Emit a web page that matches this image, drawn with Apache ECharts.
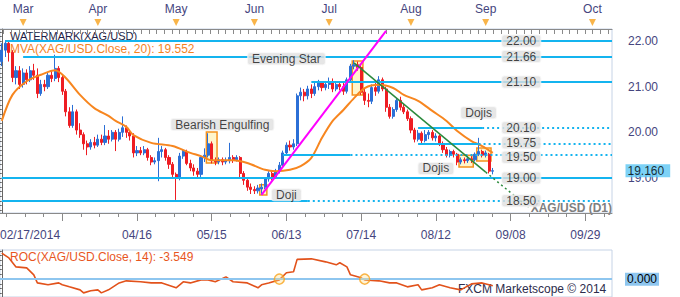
<!DOCTYPE html>
<html><head><meta charset="utf-8">
<script src="https://cdn.jsdelivr.net/npm/echarts@6/dist/echarts.min.js"></script>
<style>html,body{margin:0;padding:0;background:#fff}#c{width:680px;height:297px}</style>
</head><body><div id="c"></div>
<script>
// ---- categories (trading-day slots, then calendar days in the future area) ----
const categories = [
'02/21','02/24','02/25','02/26','02/27','02/28',
'03/03','03/04','03/05','03/06','03/07','03/10','03/11','03/12','03/13','03/14','03/17','03/18','03/19','03/20','03/21','03/24','03/25','03/26','03/27','03/28','03/31',
'04/01','04/02','04/03','04/04','04/07','04/08','04/09','04/10','04/11','04/14','04/15','04/16','04/17','04/18','04/21','04/22','04/23','04/24','04/25','04/28','04/29','04/30',
'05/01','05/02','05/05','05/06','05/07','05/08','05/09','05/12','05/13','05/14','05/15','05/16','05/19','05/20','05/21','05/22','05/23','05/26','05/27','05/28','05/29','05/30',
'06/02','06/03','06/04','06/05','06/06','06/09','06/10','06/11','06/12','06/13','06/16','06/17','06/18','06/19','06/20','06/23','06/24','06/25','06/26','06/27','06/30',
'07/01','07/02','07/03','07/04','07/07','07/08','07/09','07/10','07/11','07/14','07/15','07/16','07/17','07/18','07/21','07/22','07/23','07/24','07/25','07/28','07/29','07/30','07/31',
'08/01','08/04','08/05','08/06','08/07','08/08','08/11','08/12','08/13','08/14','08/15','08/18','08/19','08/20','08/21','08/22','08/25','08/26','08/27','08/28','08/29',
'09/01','09/02','09/03','09/04','09/05','09/06','09/07','09/08','09/09','09/10','09/11','09/12','09/13','09/14','09/15','09/16','09/17','09/18','09/19','09/20','09/21','09/22','09/23','09/24','09/25','09/26','09/27','09/28','09/29','09/30',
'10/01','10/02','10/03','10/04','10/05','10/06'
];
const bottomTickLabels = ['03/18','04/16','05/15','06/13','07/14','08/12','09/08','09/29'];
const bottomShownLabels = ['04/16','05/15','06/13','07/14','08/12','09/08','09/29'];
const firstLabel = '02/17/2014';
const monthTickDates = ['03/03','04/01','05/01','06/02','07/01','08/01','09/01','10/01'];
const monthTickLabels = ['Mar','Apr','May','Jun','Jul','Aug','Sep','Oct'];
const priceTickLabels = [19, 20, 21, 22];

// ---- OHLC (XAG/USD daily) ----
const opens = [
21.55,21.80,21.95,21.75,21.20,21.35,21.05,21.30,21.15,21.35,
21.25,20.85,21.05,21.00,21.25,21.18,21.40,21.20,20.90,20.45,
20.15,20.45,20.05,19.95,19.75,19.68,19.78,19.72,19.85,19.78,
19.92,19.85,20.00,19.85,20.00,20.10,20.00,19.92,19.55,19.60,
19.55,19.62,19.45,19.35,19.38,19.58,19.62,19.45,19.30,19.08,
19.00,19.48,19.58,19.32,19.22,19.15,19.08,19.45,19.50,19.75,
19.38,19.35,19.40,19.35,19.38,19.45,19.40,19.45,19.10,18.95,
18.80,18.75,18.72,18.76,18.80,18.98,19.10,19.02,19.15,19.28,
19.55,19.72,19.68,19.75,20.80,20.88,20.80,20.95,20.85,21.00,
21.08,20.98,21.05,21.10,20.95,21.05,21.00,20.90,21.15,21.45,
21.48,21.42,20.88,20.70,20.68,20.98,20.90,21.15,20.95,20.55,
20.35,20.50,20.70,20.55,20.45,20.30,20.05,19.85,19.98,19.82,
19.95,20.00,19.88,19.92,19.75,19.62,19.50,19.58,19.52,19.35,
19.40,19.38,19.42,19.40,19.52,19.58,19.50,19.52,19.15];
const closes = [
21.80,21.95,21.75,21.20,21.35,21.05,21.30,21.15,21.35,21.25,
20.85,21.05,21.00,21.25,21.18,21.40,21.20,20.90,20.45,20.15,
20.45,20.05,19.95,19.75,19.68,19.78,19.72,19.85,19.78,19.92,
19.85,20.00,19.85,20.00,20.10,20.00,19.92,19.55,19.60,19.55,
19.62,19.45,19.35,19.38,19.58,19.62,19.45,19.30,19.08,19.00,
19.48,19.58,19.32,19.22,19.15,19.08,19.45,19.50,19.75,19.38,
19.35,19.40,19.35,19.38,19.45,19.40,19.45,19.10,18.95,18.80,
18.75,18.72,18.78,18.80,18.98,19.10,19.02,19.15,19.28,19.55,
19.72,19.68,19.75,20.80,20.88,20.80,20.95,20.85,21.00,21.08,
20.98,21.05,21.10,20.95,21.05,21.00,20.90,21.15,21.45,21.48,
21.42,20.88,20.70,20.68,20.98,20.90,21.15,20.95,20.55,20.35,
20.50,20.70,20.55,20.45,20.30,20.05,19.85,19.98,19.82,19.95,
20.00,19.88,19.92,19.75,19.62,19.50,19.58,19.52,19.35,19.40,
19.38,19.42,19.40,19.52,19.58,19.50,19.55,19.15,19.16];
const lows = [
21.45,21.65,21.55,21.10,21.05,20.95,20.98,21.05,21.10,21.15,
20.75,20.80,20.90,20.95,21.10,21.12,21.10,20.82,20.35,20.10,
20.10,19.95,19.88,19.62,19.50,19.62,19.65,19.68,19.72,19.72,
19.75,19.80,19.59,19.80,19.90,19.88,19.82,19.45,19.48,19.50,
19.50,19.38,19.28,19.30,18.93,19.45,19.38,19.20,19.00,18.52,
18.95,19.42,19.28,19.15,19.05,19.00,19.02,19.35,19.45,19.32,
19.28,19.30,19.28,19.30,19.32,19.33,19.36,19.02,18.85,18.72,
18.65,18.65,18.66,18.63,18.76,18.92,18.95,18.98,19.10,19.25,
19.50,19.60,19.62,19.70,20.70,20.68,20.72,20.75,20.80,20.92,
20.90,20.92,20.95,20.88,20.90,20.92,20.82,20.85,21.10,21.38,
21.35,20.82,20.60,20.55,20.62,20.80,20.85,20.90,20.45,20.30,
20.30,20.45,20.48,20.40,20.25,19.98,19.78,19.80,19.75,19.78,
19.85,19.82,19.80,19.70,19.55,19.45,19.45,19.45,19.28,19.30,
19.32,19.33,19.33,19.36,19.48,19.45,19.45,19.10,19.08];
const highs = [
21.95,22.02,22.00,21.80,21.45,21.45,21.40,21.38,21.45,21.50,
21.40,21.15,21.15,21.30,21.35,21.70,21.45,21.25,20.95,20.55,
20.60,20.50,20.20,20.00,19.82,19.85,19.90,19.95,19.95,20.16,
20.05,20.05,20.05,20.08,20.35,20.15,20.05,19.98,19.70,19.68,
19.70,19.66,19.50,19.45,19.88,19.70,19.66,19.50,19.35,19.12,
19.55,19.62,19.62,19.40,19.30,19.22,19.50,19.65,19.98,19.80,
19.45,19.45,19.45,19.45,19.77,19.50,19.50,19.48,19.15,19.00,
18.88,18.82,18.85,18.88,19.02,19.15,19.15,19.20,19.35,19.60,
19.78,19.82,19.85,20.85,20.98,20.95,21.02,21.05,21.10,21.15,
21.12,21.12,21.20,21.18,21.12,21.10,21.08,21.20,21.50,21.58,
21.55,21.48,20.95,20.85,21.05,21.08,21.23,21.20,21.00,20.62,
20.55,20.75,20.78,20.62,20.50,20.35,20.10,20.05,20.02,20.05,
20.05,20.05,19.98,19.95,19.80,19.68,19.62,19.62,19.55,19.45,
19.45,19.48,19.48,19.56,19.88,19.62,19.60,19.55,19.22];

// ---- MVA(20) ----
const smaDates = ['02/21','02/26','03/04','03/10','03/14','03/19','03/25','03/31','04/04','04/08','04/11','04/15','04/22','04/30','05/07','05/12','05/15','05/23','05/29','06/05','06/10','06/16','06/19','06/24','06/27','07/02','07/07','07/10','07/15','07/21','07/25','07/30','08/05','08/11','08/15','08/20','08/26','08/29','09/03'];
const smaValues = [20.25,20.82,21.12,21.26,21.36,21.19,20.82,20.53,20.36,20.25,20.12,19.94,19.77,19.70,19.55,19.48,19.39,19.39,19.33,19.18,19.15,19.18,19.26,19.44,19.88,20.25,20.49,20.75,20.97,21.04,20.97,20.82,20.69,20.47,20.25,20.03,19.81,19.70,19.552];

// ---- ROC(14) ----
const rocDates = ['02/21','02/25','02/27','03/04','03/06','03/07','03/12','03/17','03/18','03/20','03/25','03/26','03/28','04/01','04/02','04/04','04/09','04/11','04/17','04/22','04/25','05/01','05/05','05/07','05/12','05/14','05/16','05/21','05/23','05/29','06/03','06/04','06/06','06/11','06/13','06/17','06/18','06/24','06/30','07/03','07/04','07/08','07/09','07/14','07/15','07/21','07/24','07/28','07/31','08/05','08/06','08/11','08/13','08/18','08/21','08/26','08/29','09/03'];
const rocValues = [13.8,11.3,6.5,6.0,2.3,-2.0,-3.0,-2.0,-3.0,-4.1,-5.7,-7.3,-6.2,-5.7,-7.3,-5.7,-2.0,-0.9,-1.4,-2.0,-2.0,-4.6,-1.4,-2.0,-0.4,-0.4,-1.4,1.2,-1.4,-2.0,-4.6,-3.0,-2.0,-0.4,3.4,3.9,10.5,10.8,9.2,7.6,8.7,6.5,2.3,0.7,-0.4,-0.9,-2.0,-2.0,-4.1,-3.0,-5.7,-4.6,-3.0,-4.6,-5.7,-2.5,-2.0,-3.549];
const rocMarkDates = ['06/11','07/15'];
const rocMarkValues = [0, 0];

// ---- horizontal levels ----
const levelValues   = [22.00, 21.66, 21.10, 20.10, 19.75, 19.50, 19.00, 18.50];
const levelLabels   = ['22.00','21.66','21.10','20.10','19.75','19.50','19.00','18.50'];
const levelFrom     = ['02/24','03/03','06/24','08/05','08/05','06/12','02/21','02/21'];
const levelSolidTo  = ['10/06','10/06','10/06','08/29','08/28','07/09','10/06','06/23'];
const levelLabelDate = '09/11';

// ---- trend lines ----
const trendFromDate = ['06/04','07/10','09/01'];
const trendFromVal  = [18.63, 21.52, 19.13];
const trendToDate   = ['07/23','09/01','09/13'];
const trendToVal    = [22.22, 19.13, 18.36];

// ---- pattern boxes ----
const patternFrom   = ['05/14','07/10','06/04','08/21','08/28'];
const patternTo     = ['05/16','07/14','06/05','08/26','09/02'];
const patternTop    = [20.01, 21.56, 18.85, 19.50, 19.66];
const patternBottom = [19.33, 20.82, 18.63, 19.24, 19.37];

// ---- annotations ----
const annTexts  = ['Evening Star','Bearish Engulfing','Doji','Dojis','Dojis'];
const annDates  = ['06/13','05/20','06/13','08/28','08/12'];
const annPrices = [21.61, 20.17, 18.635, 20.43, 19.21];

const lastPrice = 19.16;

// ================= build =================
const N = categories.length;
const idx = d => categories.indexOf(d);
const FONT = 'Liberation Sans, Arial, sans-serif';
const CYAN = '#14b4ef';
const AXC = '#8a8a8a';
const LBL = '#45457e';
const CLEAR = 'rgba(0,0,0,0)';

const majorIdx = bottomTickLabels.map(idx);
const minorIdx = [];
for (let k = -1; k < 8; k++) {
  for (let j = 1; j < 4; j++) {
    const v = 17 + 21 * k + 5.25 * j;
    if (v > -0.5 && v < N - 0.5) minorIdx.push(v);
  }
}
const topTicks = [];
for (let v = 0.5; v < N - 0.5; v += 2.15) topTicks.push(v);
const priceMinor = [];
for (let i = 183; i <= 222; i++) { if (i % 10 !== 0) priceMinor.push(i / 10); }

const candleData = opens.map((o, i) => [o, closes[i], lows[i], highs[i]]);

const levelLines = [];
levelValues.forEach((v, i) => {
  const a = idx(levelFrom[i]);
  const bRaw = idx(levelSolidTo[i]);
  const b = bRaw === N - 1 ? N - 0.5 : bRaw;
  levelLines.push([{coord: [a, v], lineStyle: {color: CYAN, width: 2, type: 'solid'}}, {coord: [b, v]}]);
  if (bRaw !== N - 1) {
    levelLines.push([{coord: [b, v], lineStyle: {color: CYAN, width: 2, type: [2, 3]}}, {coord: [N - 0.5, v]}]);
  }
});
const trendColors = ['#ff00ff', '#2b8a3c', '#2b8a3c'];
const trendTypes = ['solid', 'solid', [2, 3]];
const trendLines = trendFromDate.map((d, i) => [
  {coord: [idx(d), trendFromVal[i]], lineStyle: {color: trendColors[i], width: i === 0 ? 2 : 1.5, type: trendTypes[i]}},
  {coord: [idx(trendToDate[i]), trendToVal[i]]}
]);
const boxes = patternFrom.map((d, i) => [
  {coord: [idx(d) - 0.5, patternTop[i]]},
  {coord: [idx(patternTo[i]) + 0.5, patternBottom[i]]}
]);

const boxLabel = {
  show: true, position: 'inside', color: '#151515', fontSize: 12, fontFamily: FONT,
  backgroundColor: '#e0e0e0', borderColor: '#f4f4f4', borderWidth: 1, borderRadius: 2,
  padding: [0, 4, -1, 4], lineHeight: 12
};

const option = {
  animation: false,
  textStyle: {fontFamily: FONT},
  grid: [
    {left: 0, top: 29, width: 612, height: 184, show: true, borderColor: '#c6d3e6', borderWidth: 1, backgroundColor: '#fff', outerBoundsMode: 'none'},
    {left: 0, top: 250, width: 612, height: 47, show: true, borderColor: '#c6d3e6', borderWidth: 1, outerBoundsMode: 'none'},
    {left: 0, top: 19, width: 612, height: 10, show: false, outerBoundsMode: 'none'}
  ],
  xAxis: [
    {type: 'category', gridIndex: 0, data: categories, boundaryGap: true, show: false},
    {type: 'value', gridIndex: 0, position: 'bottom', min: -0.5, max: N - 0.5,
      axisLine: {show: true, lineStyle: {color: AXC}}, splitLine: {show: false},
      axisTick: {show: true, length: 8, customValues: majorIdx, lineStyle: {color: AXC}},
      axisLabel: {show: true, customValues: [-0.5].concat(bottomShownLabels.map(idx)),
        formatter: v => v < 0 ? firstLabel : categories[Math.round(v)],
        margin: 16, color: LBL, fontSize: 12, alignMinLabel: 'left', hideOverlap: false}},
    {type: 'value', gridIndex: 0, position: 'bottom', min: -0.5, max: N - 0.5,
      axisLine: {show: false}, splitLine: {show: false},
      axisTick: {show: true, length: 4, customValues: minorIdx, lineStyle: {color: AXC}},
      axisLabel: {show: false}},
    {type: 'value', gridIndex: 1, min: -0.5, max: N - 0.5, show: false},
    {type: 'value', gridIndex: 2, position: 'top', min: -0.5, max: N - 0.5,
      axisLine: {show: true, lineStyle: {color: AXC}}, splitLine: {show: false},
      axisTick: {show: true, inside: true, length: 5, customValues: topTicks, lineStyle: {color: AXC}},
      axisLabel: {show: true, customValues: monthTickDates.map(idx),
        formatter: v => monthTickLabels[monthTickDates.map(idx).indexOf(Math.round(v))] || '',
        margin: 4, color: LBL, fontSize: 12, hideOverlap: false}}
  ],
  yAxis: [
    {type: 'value', gridIndex: 0, position: 'right', offset: 13, min: 18.234, max: 22.263,
      axisLine: {show: true, lineStyle: {color: '#666'}}, splitLine: {show: false},
      axisTick: {show: true, inside: true, length: 11, customValues: priceTickLabels, lineStyle: {color: '#666'}},
      axisLabel: {show: true, customValues: priceTickLabels, formatter: v => v.toFixed(2), margin: 3, color: LBL, fontSize: 12, hideOverlap: false}},
    {type: 'value', gridIndex: 0, position: 'right', offset: 13, min: 18.234, max: 22.263,
      axisLine: {show: false}, splitLine: {show: false},
      axisTick: {show: true, inside: true, length: 4, customValues: priceMinor, lineStyle: {color: '#666'}},
      axisLabel: {show: false}},
    {type: 'value', gridIndex: 1, position: 'right', offset: 13, min: -9.5, max: 15.5,
      axisLine: {show: true, lineStyle: {color: '#666'}}, splitLine: {show: false},
      axisTick: {show: true, inside: true, length: 4, customValues: [-7.5, -5, -2.5, 0, 2.5, 5, 7.5, 10, 12.5, 15], lineStyle: {color: '#666'}},
      axisLabel: {show: false}},
    {type: 'value', gridIndex: 2, min: 0, max: 1, show: false}
  ],
  graphic: [
    {type: 'text', left: 10, top: 30, z: 0, style: {text: 'WATERMARK(XAG/USD)', fill: '#1e1e46', font: '11px ' + FONT}},
    {type: 'text', left: 10, top: 43, z: 0, style: {text: 'MVA(XAG/USD.Close, 20): 19.552', fill: '#f5821f', font: '12px ' + FONT}},
    {type: 'text', right: 68, top: 202, z: 0, style: {text: 'XAG/USD (D1)', fill: '#808080', font: 'bold 12px ' + FONT}},
    {type: 'text', left: 10, top: 251, z: 0, style: {text: 'ROC(XAG/USD.Close, 14): -3.549', fill: '#e8561e', font: '12px ' + FONT}},
    {type: 'text', left: 458, top: 283, z: 0, style: {text: 'FXCM Marketscope \u00a9 2014', fill: '#2c2c4c', font: '12px ' + FONT}}
  ],
  series: [
    // pattern boxes (under the candles)
    {type: 'line', xAxisIndex: 1, yAxisIndex: 0, data: [], z: 1, silent: true,
      markArea: {silent: true, itemStyle: {color: 'rgba(255,242,185,0.75)', borderColor: '#f5921e', borderWidth: 1.5},
        data: boxes}},
    // horizontal levels
    {type: 'line', xAxisIndex: 1, yAxisIndex: 0, data: [], z: 2, silent: true,
      markLine: {silent: true, symbol: ['none', 'none'], label: {show: false}, data: levelLines}},
    {type: 'candlestick', xAxisIndex: 0, yAxisIndex: 0, data: candleData, barWidth: 2.6, z: 3, silent: true,
      itemStyle: {color: '#2b6fd6', color0: '#ee1d23', borderColor: '#2b6fd6', borderColor0: '#ee1d23', borderWidth: 1}},
    // MVA
    {type: 'line', xAxisIndex: 1, yAxisIndex: 0, z: 4, silent: true, symbol: 'none', smooth: 0.3,
      lineStyle: {color: '#f7861f', width: 2}, data: smaDates.map((d, i) => [idx(d), smaValues[i]])},
    // trend lines
    {type: 'line', xAxisIndex: 1, yAxisIndex: 0, data: [], z: 5, silent: true,
      markLine: {silent: true, symbol: ['none', 'none'], label: {show: false}, data: trendLines}},
    // level label boxes
    {type: 'scatter', xAxisIndex: 1, yAxisIndex: 0, z: 8, silent: true, symbolSize: 1, itemStyle: {color: CLEAR},
      label: boxLabel,
      data: levelValues.map((v, i) => ({value: [idx(levelLabelDate), v], label: {formatter: levelLabels[i], offset: levelLabels[i] === '19.50' ? [0, 2] : (levelLabels[i] === '19.75' ? [0, -1] : [0, 0])}}))},
    // pattern annotations
    {type: 'scatter', xAxisIndex: 1, yAxisIndex: 0, z: 8, silent: true, symbolSize: 1, itemStyle: {color: CLEAR},
      label: boxLabel,
      data: annTexts.map((t, i) => ({value: [idx(annDates[i]), annPrices[i]], label: {formatter: t}}))},
    // last price tag
    {type: 'scatter', xAxisIndex: 1, yAxisIndex: 0, z: 9, silent: true, symbolSize: 1, itemStyle: {color: CLEAR},
      data: [[N - 0.5, lastPrice]],
      label: {show: true, position: 'right', distance: 13, formatter: lastPrice.toFixed(3), color: '#000', fontSize: 12, fontFamily: FONT,
        backgroundColor: '#5cc7f4', padding: [1, 6, 0, 2], lineHeight: 12}},
    // ROC
    {type: 'line', xAxisIndex: 3, yAxisIndex: 2, z: 4, silent: true, symbol: 'none',
      lineStyle: {color: '#e2521b', width: 1.6}, data: rocDates.map((d, i) => [idx(d), rocValues[i]]),
      markLine: {silent: true, symbol: ['none', 'none'], lineStyle: {color: '#8ec6ef', width: 2, type: 'solid'},
        label: {show: true, position: 'end', distance: 13, formatter: '0.000', color: '#000', fontSize: 12, fontFamily: FONT,
          backgroundColor: '#8ec6ef', padding: [1, 2, 0, 2]},
        data: [{yAxis: 0}]}},
    {type: 'scatter', xAxisIndex: 3, yAxisIndex: 2, z: 5, silent: true, symbol: 'circle', symbolSize: 10,
      itemStyle: {color: 'rgba(255,225,140,0.45)', borderColor: '#f7a21b', borderWidth: 1.5},
      data: rocMarkDates.map((d, i) => [idx(d), rocMarkValues[i]])},
    // month markers on top axis
    {type: 'scatter', xAxisIndex: 4, yAxisIndex: 3, z: 5, silent: true, symbol: 'triangle', symbolRotate: 180, symbolSize: [7, 7],
      itemStyle: {color: '#f8a11c'}, data: monthTickDates.map(d => [idx(d), 0.65])}
  ]
};
const chart = echarts.init(document.getElementById('c'), null, {renderer: 'svg'});
chart.setOption(option);
</script>
</body></html>
